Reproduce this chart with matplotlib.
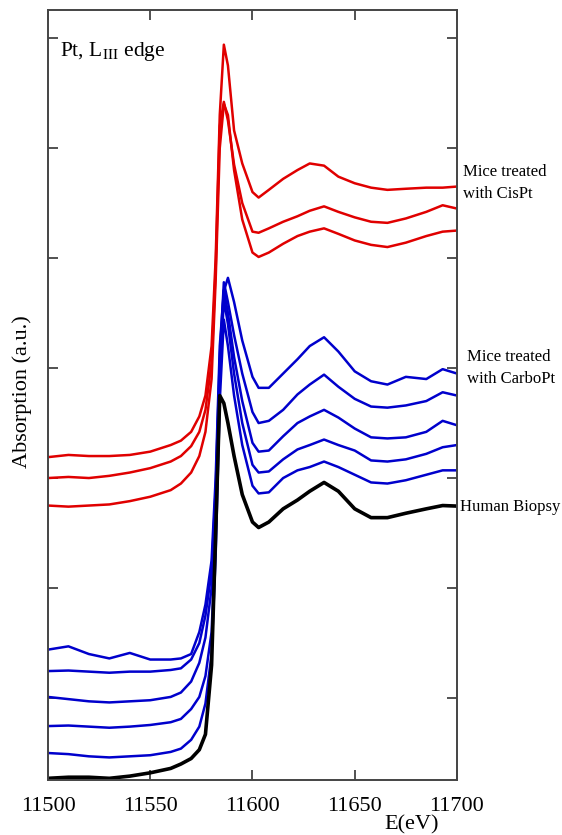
import numpy as np
import matplotlib
matplotlib.use("Agg")
import matplotlib.pyplot as plt

# energy grid (eV) shared by all spectra
energy = [11500, 11510, 11520, 11530, 11540, 11550, 11560, 11565, 11570, 11574,
          11577, 11580, 11582, 11584, 11586, 11588, 11591, 11595, 11600, 11603,
          11608, 11615, 11622, 11628, 11635, 11642, 11650, 11658, 11666, 11675,
          11685, 11693, 11700]

# mice treated with CisPt (red), top to bottom, offset units
cis_1 = [2.19, 2.21, 2.20, 2.20, 2.21, 2.24, 2.30, 2.34, 2.42, 2.56,
         2.75, 3.20, 4.00, 5.30, 5.94, 5.75, 5.16, 4.86, 4.60, 4.55,
         4.62, 4.72, 4.80, 4.86, 4.84, 4.74, 4.68, 4.64, 4.62, 4.63,
         4.64, 4.64, 4.65]
cis_2 = [2.00, 2.01, 2.00, 2.02, 2.05, 2.09, 2.15, 2.20, 2.29, 2.42,
         2.62, 3.05, 3.90, 5.20, 5.42, 5.25, 4.85, 4.50, 4.24, 4.23,
         4.27, 4.33, 4.38, 4.43, 4.47, 4.42, 4.37, 4.33, 4.32, 4.36,
         4.42, 4.48, 4.45]
cis_3 = [1.75, 1.74, 1.75, 1.76, 1.79, 1.83, 1.89, 1.95, 2.05, 2.20,
         2.42, 2.90, 3.80, 5.00, 5.40, 5.30, 4.80, 4.35, 4.05, 4.01,
         4.05, 4.13, 4.20, 4.24, 4.27, 4.22, 4.16, 4.12, 4.10, 4.14,
         4.20, 4.24, 4.25]

# mice treated with CarboPt (blue), top to bottom
carbo_1 = [0.44, 0.47, 0.40, 0.36, 0.41, 0.35, 0.35, 0.36, 0.40, 0.60,
           0.85, 1.25, 2.00, 3.20, 3.70, 3.82, 3.60, 3.25, 2.92, 2.82,
           2.82, 2.95, 3.08, 3.20, 3.28, 3.15, 2.97, 2.88, 2.85, 2.92,
           2.90, 2.99, 2.95]
carbo_2 = [0.245, 0.25, 0.24, 0.23, 0.24, 0.24, 0.255, 0.27, 0.35, 0.50,
           0.75, 1.15, 1.90, 3.10, 3.78, 3.60, 3.30, 2.95, 2.60, 2.50,
           2.52, 2.62, 2.76, 2.85, 2.94, 2.83, 2.72, 2.65, 2.64, 2.66,
           2.70, 2.78, 2.75]
carbo_3 = [0.01, -0.01, -0.03, -0.04, -0.03, -0.02, 0.01, 0.05, 0.15, 0.32,
           0.55, 1.00, 1.80, 3.00, 3.71, 3.50, 3.10, 2.70, 2.32, 2.24,
           2.25, 2.38, 2.50, 2.56, 2.62, 2.55, 2.45, 2.37, 2.36, 2.37,
           2.42, 2.52, 2.48]
carbo_4 = [-0.255, -0.25, -0.26, -0.27, -0.26, -0.245, -0.22, -0.19, -0.10, 0.01,
           0.20, 0.60, 1.50, 2.90, 3.62, 3.40, 2.95, 2.50, 2.12, 2.05,
           2.06, 2.17, 2.26, 2.30, 2.35, 2.30, 2.25, 2.16, 2.15, 2.17,
           2.22, 2.28, 2.30]
carbo_5 = [-0.50, -0.51, -0.53, -0.54, -0.53, -0.52, -0.49, -0.46, -0.38, -0.26,
           -0.05, 0.40, 1.30, 2.70, 3.44, 3.20, 2.75, 2.30, 1.93, 1.86,
           1.87, 2.00, 2.07, 2.10, 2.15, 2.10, 2.03, 1.96, 1.95, 1.98,
           2.03, 2.07, 2.07]

# human biopsy (black)
biopsy = [-0.73, -0.72, -0.72, -0.73, -0.71, -0.68, -0.64, -0.60, -0.55, -0.47,
          -0.33, 0.30, 1.50, 2.75, 2.68, 2.50, 2.20, 1.85, 1.60, 1.55,
          1.60, 1.72, 1.80, 1.88, 1.96, 1.88, 1.72, 1.64, 1.64, 1.68,
          1.72, 1.75, 1.745]

plt.rcParams['font.family'] = ['Liberation Serif', 'DejaVu Serif']
plt.rcParams['mathtext.fontset'] = 'stix'

fig = plt.figure(figsize=(5.62, 8.35), dpi=100)
ax = fig.add_axes([0.0854, 0.0659, 0.7277, 0.9221])

for s in [carbo_1, carbo_2, carbo_3, carbo_4, carbo_5]:
    ax.plot(energy, s, color='#0000cc', lw=1.8)
ax.plot(energy, biopsy, color='black', lw=2.6)
for s in [cis_1, cis_2, cis_3]:
    ax.plot(energy, s, color='#e00000', lw=1.8)

ax.set_xlim(11500, 11700)
ax.set_ylim(-0.745, 6.255)
ax.set_xticks([11500, 11550, 11600, 11650, 11700])
ax.set_yticks([0, 1, 2, 3, 4, 5, 6])
ax.set_yticklabels([])
ax.tick_params(direction='in', length=7, width=1.2, top=True, right=True,
               labelsize=16, pad=12, color='#333333')
for sp in ax.spines.values():
    sp.set_linewidth(1.4)
    sp.set_color('#444444')

ax.set_ylabel('Absorption (a.u.)', fontsize=16)
ax.yaxis.set_label_coords(-0.038, 0.504)
fig.text(0.733, 0.012, 'E(eV)', fontsize=16, ha='center', va='center')

ax.text(0.03, 0.946, r'Pt, L$_{\mathrm{III}}$ edge', transform=ax.transAxes,
        fontsize=15.5, va='center', ha='left')

fig.text(0.824, 1 - 183 / 835, 'Mice treated\nwith CisPt', fontsize=12,
         va='center', ha='left', linespacing=1.45)
fig.text(0.831, 1 - 368 / 835, 'Mice treated\nwith CarboPt', fontsize=12,
         va='center', ha='left', linespacing=1.45)
fig.text(0.818, 1 - 507 / 835, 'Human Biopsy', fontsize=12,
         va='center', ha='left')

fig.savefig('out.png', dpi=100)
